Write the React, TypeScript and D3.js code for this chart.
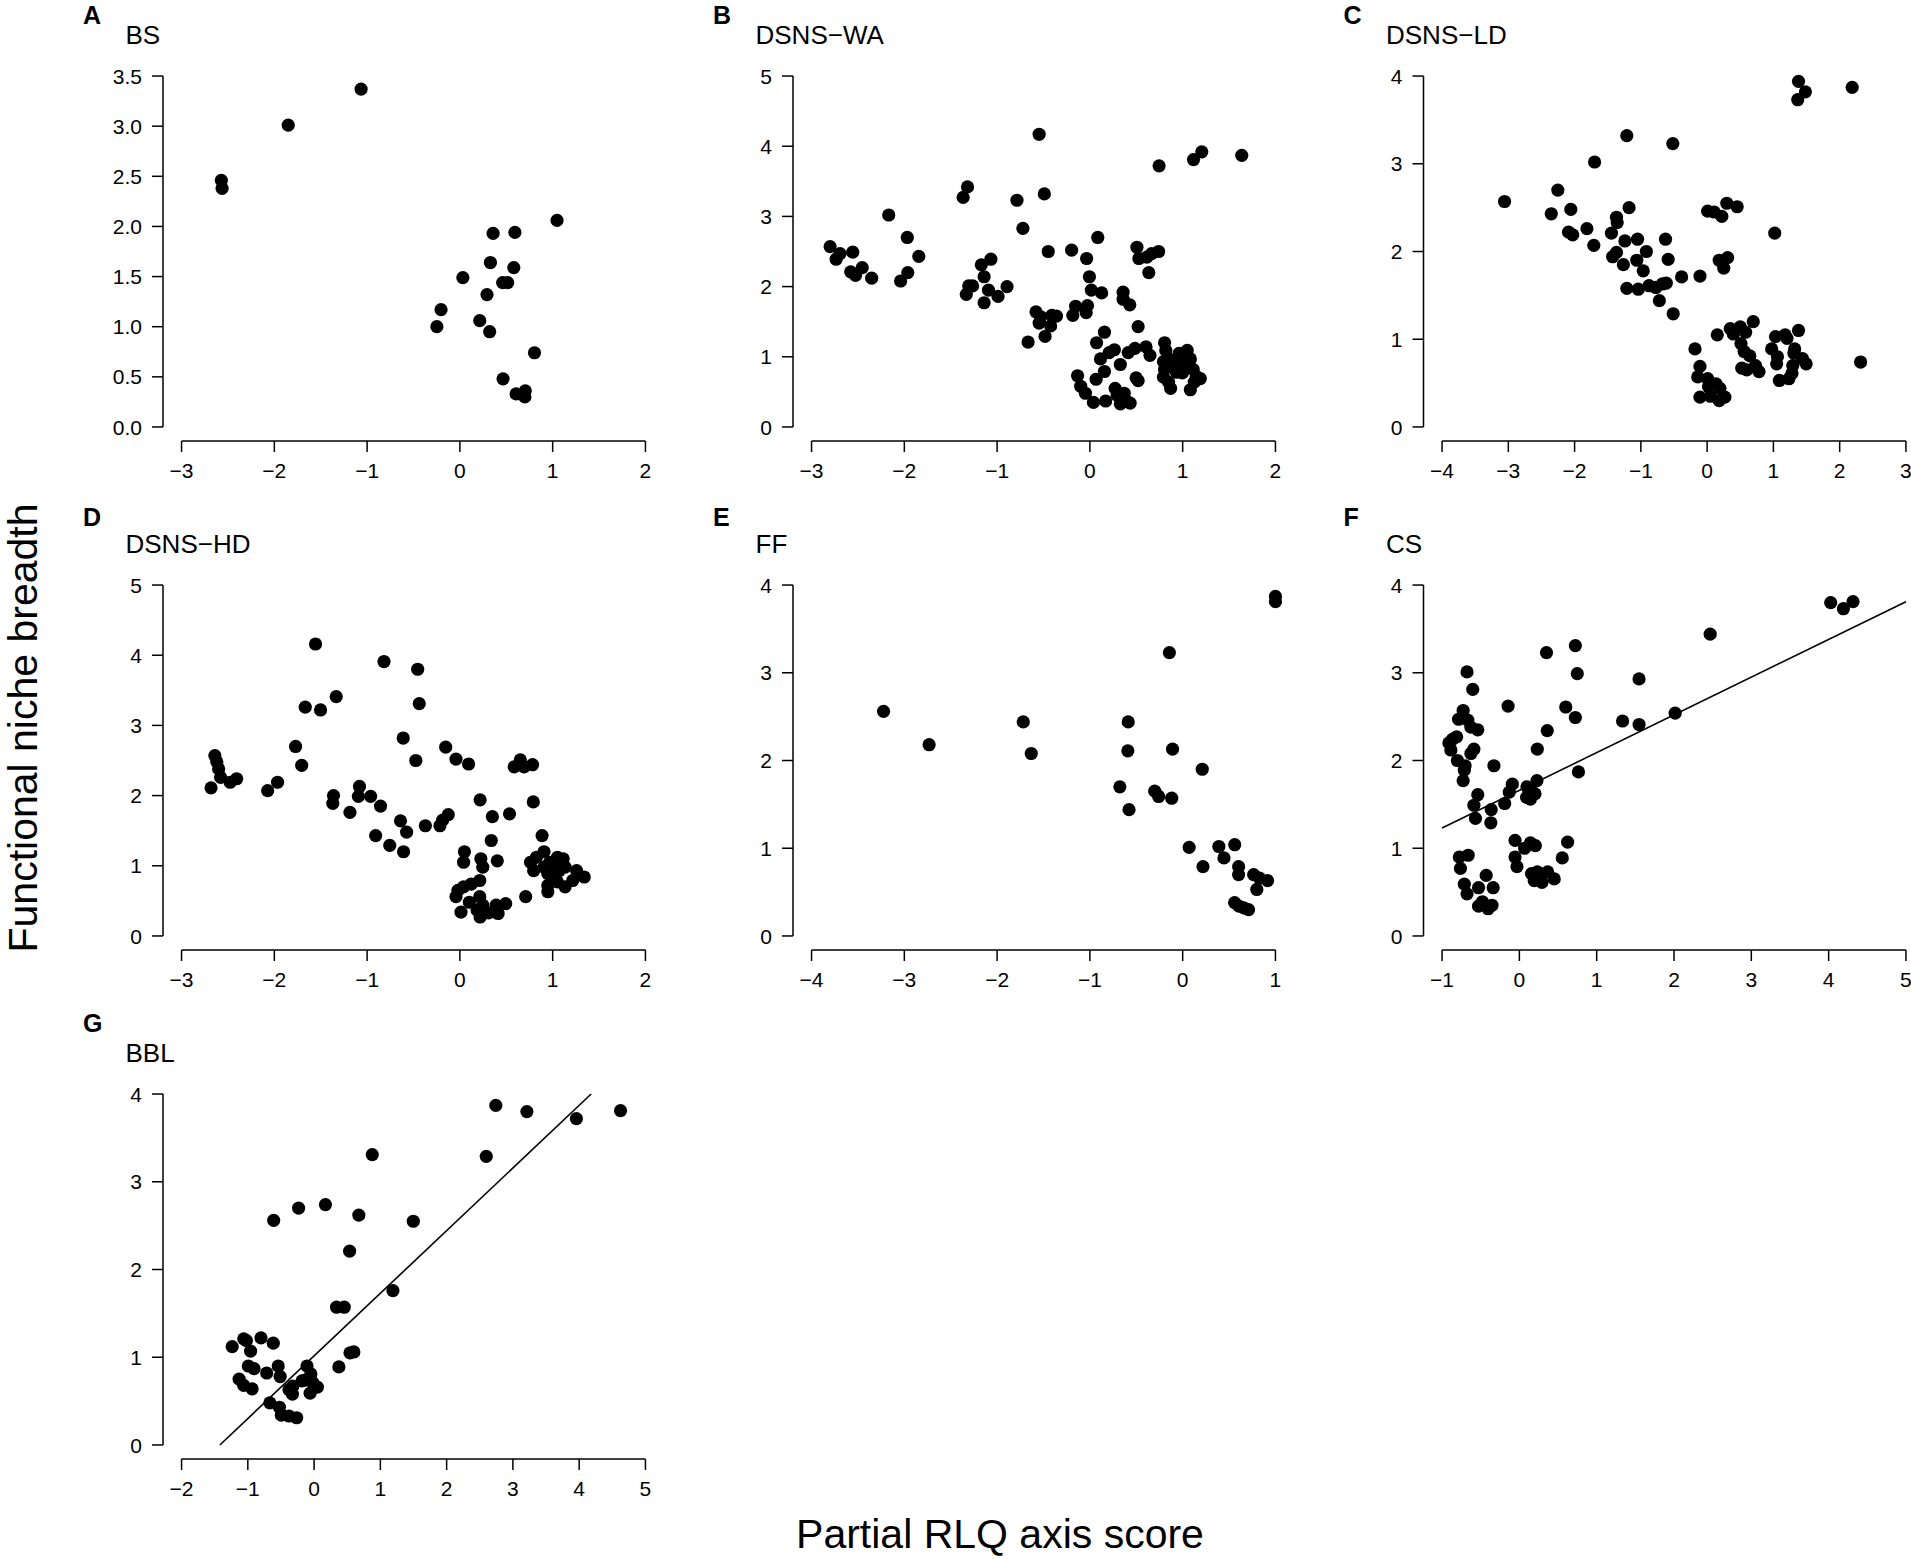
import React from "react";
import * as d3 from "d3";

// ---------- data ----------
const bsX = [-1.065, -1.85, -2.571, -2.563, 1.047, 0.358, 0.593, 0.329, 0.581, 0.032, 0.461, 0.515, 0.292, -0.203, -0.248, 0.214, 0.321, 0.804, 0.465, 0.606, 0.705, 0.70];
const bsY = [3.37, 3.01, 2.46, 2.38, 2.06, 1.93, 1.94, 1.64, 1.59, 1.49, 1.44, 1.44, 1.32, 1.17, 1.0, 1.06, 0.95, 0.74, 0.48, 0.33, 0.36, 0.30];

const waX = [-0.547, 0.746, 1.117, 1.206, 1.637, -1.319, -1.366, -0.786, -0.491, -2.168, -0.722, -1.968, 0.085, -2.8, -2.693, -2.735, -2.556, -1.844, -0.449, -0.197, -0.035, -2.578, -2.526, -2.454, -2.352, -1.963, -2.04, -1.17, -1.067, -1.14, -1.306, -1.264, -1.332, -1.093, -1.14, -0.99, -0.893, -0.005, 0.016, 0.127, 0.358, 0.358, 0.43, -0.026, -0.154, -0.184, -0.04, -0.581, -0.53, -0.547, -0.41, -0.36, -0.423, -0.483, -0.666, 0.52, 0.157, 0.072, 0.507, 0.528, 0.614, 0.665, 0.741, 0.635, 0.114, 0.208, 0.264, 0.413, 0.486, 0.605, 0.648, 0.328, -0.133, -0.099, -0.048, 0.038, 0.067, 0.157, 0.17, 0.272, 0.294, 0.328, 0.37, 0.40, 0.434, 0.498, 0.52, 0.805, 0.818, 0.848, 0.793, 0.805, 0.793, 0.848, 0.87, 0.89, 0.933, 0.963, 0.989, 1.049, 1.083, 1.04, 0.997, 1.113, 1.147, 1.19, 1.125, 1.083, 0.933];
const waY = [4.17, 3.72, 3.81, 3.92, 3.87, 3.42, 3.27, 3.23, 3.32, 3.02, 2.83, 2.70, 2.70, 2.57, 2.47, 2.39, 2.49, 2.43, 2.50, 2.52, 2.40, 2.21, 2.16, 2.27, 2.12, 2.20, 2.08, 2.31, 2.39, 2.14, 2.01, 2.01, 1.89, 1.95, 1.77, 1.86, 2.00, 2.14, 1.95, 1.91, 1.92, 1.82, 1.74, 1.73, 1.72, 1.59, 1.63, 1.64, 1.57, 1.48, 1.59, 1.58, 1.44, 1.29, 1.21, 1.43, 1.35, 1.20, 2.56, 2.40, 2.42, 2.47, 2.50, 2.20, 0.97, 1.06, 1.10, 1.06, 1.12, 1.14, 1.02, 0.89, 0.73, 0.58, 0.48, 0.35, 0.68, 0.79, 0.37, 0.55, 0.45, 0.33, 0.48, 0.36, 0.34, 0.70, 0.66, 1.20, 1.09, 0.97, 0.93, 0.82, 0.71, 0.64, 0.55, 0.86, 0.90, 1.05, 0.97, 1.09, 0.97, 0.86, 0.77, 0.82, 0.72, 0.69, 0.64, 0.53, 0.78];

const ldX = [1.379, 1.483, 1.367, 2.189, -1.212, -0.518, -1.698, -3.057, -2.253, -2.352, -2.057, -1.178, -1.368, -1.357, -2.091, -2.028, -1.814, -1.444, -1.71, -1.241, -1.05, -0.628, -0.917, -1.368, -1.426, -1.062, -0.588, -1.264, -0.964, -0.385, -0.108, -1.212, -1.039, -0.877, -0.773, -0.674, -0.616, -0.721, -0.512, 0.008, 0.106, 0.222, 0.297, 0.453, 1.02, 0.182, 0.309, 0.251, 0.153, 0.349, 0.396, 0.5, 0.581, 0.696, 0.511, 0.558, 0.644, 0.523, 0.598, 0.731, 0.783, -0.183, -0.108, -0.142, 0.008, 0.02, 0.135, 0.193, -0.108, 0.049, 0.182, 0.268, 0.974, 1.032, 1.176, 1.205, 1.061, 1.049, 1.09, 1.234, 1.28, 1.292, 1.321, 1.379, 1.437, 1.494, 2.316, 1.31];
const ldY = [3.94, 3.82, 3.73, 3.87, 3.32, 3.23, 3.02, 2.57, 2.70, 2.43, 2.48, 2.50, 2.39, 2.33, 2.22, 2.19, 2.26, 2.21, 2.07, 2.12, 2.14, 2.14, 2.00, 1.99, 1.94, 1.90, 1.91, 1.85, 1.78, 1.71, 1.72, 1.58, 1.57, 1.61, 1.59, 1.63, 1.64, 1.44, 1.29, 2.46, 2.45, 2.40, 2.55, 2.51, 2.21, 1.90, 1.93, 1.81, 1.05, 1.12, 1.06, 1.14, 1.08, 1.20, 0.95, 0.86, 0.81, 0.67, 0.65, 0.70, 0.63, 0.89, 0.69, 0.57, 0.55, 0.46, 0.49, 0.44, 0.34, 0.35, 0.30, 0.34, 0.89, 1.03, 1.05, 1.01, 0.80, 0.72, 0.53, 0.55, 0.61, 0.70, 0.89, 1.10, 0.78, 0.72, 0.74, 0.84];

const hdX = [-1.556, -0.818, -0.455, -1.333, -1.667, -1.502, -0.438, -0.611, -1.771, -1.705, -0.153, -0.042, 0.094, -0.475, -2.641, -2.62, -2.6, -2.579, -2.476, -2.406, -2.682, -2.072, -1.965, -1.362, -1.37, -1.082, -1.094, -0.962, -0.855, -1.185, -0.908, -0.756, -0.607, -0.64, -0.574, -0.372, -0.215, -0.186, -0.125, 0.218, 0.35, 0.535, 0.338, 0.585, 0.651, 0.692, 0.783, 0.791, 0.886, 0.907, 0.049, 0.04, 0.226, 0.247, 0.403, 0.214, 0.123, 0.04, -0.021, -0.042, 0.012, 0.102, 0.185, 0.214, 0.218, 0.247, 0.309, 0.391, 0.412, 0.494, 0.709, 0.762, 0.795, 0.824, 0.907, 0.948, 0.969, 1.01, 1.051, 1.113, 1.072, 1.134, 0.948, 0.989, 1.051, 1.134, 0.948, 1.216, 1.258, 1.34, 1.03];
const hdY = [4.16, 3.91, 3.80, 3.41, 3.26, 3.22, 3.31, 2.82, 2.70, 2.43, 2.69, 2.52, 2.45, 2.50, 2.57, 2.48, 2.38, 2.26, 2.19, 2.24, 2.11, 2.07, 2.19, 2.00, 1.89, 2.13, 1.99, 1.99, 1.85, 1.76, 1.43, 1.29, 1.20, 1.64, 1.48, 1.57, 1.57, 1.65, 1.73, 1.94, 1.70, 1.74, 1.36, 2.41, 2.51, 2.41, 2.44, 1.91, 1.43, 1.20, 1.20, 1.05, 1.10, 0.98, 1.07, 0.79, 0.74, 0.70, 0.65, 0.56, 0.34, 0.48, 0.37, 0.56, 0.27, 0.44, 0.33, 0.44, 0.32, 0.46, 0.56, 1.05, 0.93, 1.12, 0.98, 0.89, 1.05, 1.01, 1.12, 1.10, 0.93, 0.98, 0.72, 0.79, 0.77, 0.70, 0.63, 0.79, 0.93, 0.84, 0.86];

const ffX = [1.0, 1.0, -0.143, -3.224, -2.733, -1.718, -1.632, -0.587, -0.591, -0.109, 0.211, -0.677, -0.301, -0.259, -0.118, -0.578, 0.07, 0.39, 0.561, 0.445, 0.219, 0.603, 0.603, 0.765, 0.829, 0.915, 0.799, 0.56, 0.607, 0.659, 0.71];
const ffY = [3.87, 3.81, 3.23, 2.56, 2.18, 2.44, 2.08, 2.44, 2.11, 2.13, 1.90, 1.70, 1.65, 1.59, 1.57, 1.44, 1.01, 1.02, 1.04, 0.89, 0.79, 0.79, 0.70, 0.70, 0.66, 0.63, 0.53, 0.38, 0.34, 0.32, 0.30];

const csX = [4.027, 4.191, 4.315, 2.468, 0.724, 0.351, 0.749, 1.548, -0.677, -0.603, -0.146, 0.6, 0.724, 2.015, 1.335, 1.548, 0.361, -0.727, -0.786, -0.667, -0.627, -0.538, -0.811, -0.866, -0.911, -0.886, -0.588, -0.627, 0.232, -0.801, -0.702, -0.712, -0.727, -0.329, 0.764, 0.227, -0.091, -0.131, 0.098, 0.167, 0.202, 0.093, 0.143, -0.19, -0.538, -0.588, -0.364, -0.568, -0.369, -0.056, 0.068, 0.143, 0.207, 0.624, -0.056, -0.031, 0.555, -0.776, -0.662, -0.762, -0.712, -0.677, -0.429, -0.528, -0.339, -0.528, -0.478, -0.404, -0.354, 0.157, 0.232, 0.192, 0.292, 0.366, 0.451];
const csY = [3.80, 3.73, 3.81, 3.44, 3.31, 3.23, 2.99, 2.93, 3.01, 2.81, 2.62, 2.61, 2.49, 2.54, 2.45, 2.41, 2.34, 2.57, 2.47, 2.46, 2.38, 2.35, 2.27, 2.24, 2.20, 2.12, 2.13, 2.08, 2.13, 2.00, 1.94, 1.89, 1.77, 1.94, 1.87, 1.77, 1.73, 1.64, 1.70, 1.64, 1.62, 1.58, 1.56, 1.51, 1.61, 1.49, 1.44, 1.34, 1.29, 1.09, 1.00, 1.06, 1.03, 1.07, 0.90, 0.79, 0.89, 0.90, 0.92, 0.77, 0.59, 0.48, 0.69, 0.55, 0.55, 0.34, 0.39, 0.31, 0.35, 0.71, 0.73, 0.63, 0.61, 0.73, 0.65];

const bblX = [2.742, 3.211, 3.958, 4.624, 0.878, 2.598, -0.234, 0.171, 0.675, -0.61, 1.497, 0.536, 1.19, 0.339, 0.455, -1.236, -1.062, -1.021, -0.801, -0.616, -0.958, -0.992, -0.906, -0.715, -0.541, -0.512, -1.131, -1.062, -0.935, -0.668, -0.523, -0.494, -0.379, -0.263, -0.379, -0.321, -0.327, -0.107, -0.136, -0.049, -0.02, 0.05, -0.06, -0.182, 0.374, 0.542, 0.6];
const bblY = [3.87, 3.80, 3.72, 3.81, 3.31, 3.29, 2.70, 2.74, 2.62, 2.56, 2.55, 2.21, 1.76, 1.57, 1.57, 1.12, 1.21, 1.19, 1.22, 1.16, 1.07, 0.90, 0.87, 0.82, 0.90, 0.78, 0.75, 0.68, 0.64, 0.48, 0.43, 0.34, 0.33, 0.31, 0.63, 0.67, 0.58, 0.90, 0.74, 0.81, 0.71, 0.66, 0.59, 0.73, 0.89, 1.05, 1.06];

// tick values
const xTicksA = [-3, -2, -1, 0, 1, 2];
const yTicksA = [0, 0.5, 1, 1.5, 2, 2.5, 3, 3.5];
const xTicksB = [-3, -2, -1, 0, 1, 2];
const yTicksB = [0, 1, 2, 3, 4, 5];
const xTicksC = [-4, -3, -2, -1, 0, 1, 2, 3];
const yTicksC = [0, 1, 2, 3, 4];
const xTicksD = [-3, -2, -1, 0, 1, 2];
const yTicksD = [0, 1, 2, 3, 4, 5];
const xTicksE = [-4, -3, -2, -1, 0, 1];
const yTicksE = [0, 1, 2, 3, 4];
const xTicksF = [-1, 0, 1, 2, 3, 4, 5];
const yTicksF = [0, 1, 2, 3, 4];
const xTicksG = [-2, -1, 0, 1, 2, 3, 4, 5];
const yTicksG = [0, 1, 2, 3, 4];

// fitted regression lines [intercept, slope]
const csFit = [1.66, 0.43];
const bblFit = [1.015, 0.714];

const letters = ["A", "B", "C", "D", "E", "F", "G"];
const titles = ["BS", "DSNS\u2212WA", "DSNS\u2212LD", "DSNS\u2212HD", "FF", "CS", "BBL"];

type Panel = {
  letter: string;
  title: string;
  xs: number[];
  ys: number[];
  xTicks: number[];
  yTicks: number[];
  fit: number[] | null;
  decimals: number;
};

const panels: Panel[] = [
  { letter: letters[0], title: titles[0], xs: bsX, ys: bsY, xTicks: xTicksA, yTicks: yTicksA, fit: null, decimals: 1 },
  { letter: letters[1], title: titles[1], xs: waX, ys: waY, xTicks: xTicksB, yTicks: yTicksB, fit: null, decimals: 0 },
  { letter: letters[2], title: titles[2], xs: ldX, ys: ldY, xTicks: xTicksC, yTicks: yTicksC, fit: null, decimals: 0 },
  { letter: letters[3], title: titles[3], xs: hdX, ys: hdY, xTicks: xTicksD, yTicks: yTicksD, fit: null, decimals: 0 },
  { letter: letters[4], title: titles[4], xs: ffX, ys: ffY, xTicks: xTicksE, yTicks: yTicksE, fit: null, decimals: 0 },
  { letter: letters[5], title: titles[5], xs: csX, ys: csY, xTicks: xTicksF, yTicks: yTicksF, fit: csFit, decimals: 0 },
  { letter: letters[6], title: titles[6], xs: bblX, ys: bblY, xTicks: xTicksG, yTicks: yTicksG, fit: bblFit, decimals: 0 },
];

// ---------- layout ----------
const WIDTH = 1911;
const HEIGHT = 1559;
const colLeft = [163, 793, 1423.5];
const rowTop = [62, 571, 1080];
const letterBase = [24, 526, 1032];
const PW = 501;
const PH = 379;
const FONT = "'Liberation Sans', Arial, Helvetica, sans-serif";
const TICK_FS = 21;
const TITLE_FS = 26;
const LETTER_FS = 25;
const AXIS_FS = 41;
const TICK_LEN = 11;
const R_DOT = 6.6;

const fmt = (v: number, dec: number) => {
  const s = Math.abs(v).toFixed(dec);
  return v < 0 ? "\u2212" + s : s;
};

function PanelView({ p, idx }: { p: Panel; idx: number }) {
  const col = idx % 3;
  const row = Math.floor(idx / 3);
  const L = colLeft[col];
  const T = rowTop[row];
  const x0 = p.xTicks[0];
  const x1 = p.xTicks[p.xTicks.length - 1];
  const y0 = p.yTicks[0];
  const y1 = p.yTicks[p.yTicks.length - 1];
  const dx = (x1 - x0) * 0.04;
  const dy = (y1 - y0) * 0.04;
  const xs = d3.scaleLinear().domain([x0 - dx, x1 + dx]).range([L, L + PW]);
  const ys = d3.scaleLinear().domain([y0 - dy, y1 + dy]).range([T + PH, T]);
  const bottom = T + PH;

  let fitPath: string | null = null;
  if (p.fit) {
    const [a, b] = p.fit;
    let xa = x0;
    let xb = x1;
    const xAtY0 = (y0 - a) / b;
    const xAtY1 = (y1 - a) / b;
    xa = Math.max(xa, Math.min(xAtY0, xAtY1));
    xb = Math.min(xb, Math.max(xAtY0, xAtY1));
    const line = d3
      .line<number>()
      .x((v) => xs(v))
      .y((v) => ys(a + b * v));
    fitPath = line([xa, xb]);
  }

  return (
    <g>
      <text x={L - 80} y={letterBase[row]} fontSize={LETTER_FS} fontWeight="bold" fontFamily={FONT}>
        {p.letter}
      </text>
      <text x={L - 37.5} y={T - 18} fontSize={TITLE_FS} fontFamily={FONT}>
        {p.title}
      </text>
      <line x1={L} x2={L} y1={ys(y0)} y2={ys(y1)} stroke="#000" strokeWidth={1.5} />
      {p.yTicks.map((t) => (
        <g key={"y" + t}>
          <line x1={L - TICK_LEN} x2={L} y1={ys(t)} y2={ys(t)} stroke="#000" strokeWidth={1.5} />
          <text
            x={L - 21}
            y={ys(t) + TICK_FS * 0.36}
            fontSize={TICK_FS}
            fontFamily={FONT}
            textAnchor="end"
          >
            {fmt(t, p.decimals)}
          </text>
        </g>
      ))}
      <line x1={xs(x0)} x2={xs(x1)} y1={bottom} y2={bottom} stroke="#000" strokeWidth={1.5} />
      {p.xTicks.map((t) => (
        <g key={"x" + t}>
          <line x1={xs(t)} x2={xs(t)} y1={bottom} y2={bottom + TICK_LEN} stroke="#000" strokeWidth={1.5} />
          <text x={xs(t)} y={bottom + 37} fontSize={TICK_FS} fontFamily={FONT} textAnchor="middle">
            {fmt(t, 0)}
          </text>
        </g>
      ))}
      {fitPath && <path d={fitPath} fill="none" stroke="#000" strokeWidth={1.6} />}
      {p.xs.map((v, i) => (
        <circle key={i} cx={xs(v)} cy={ys(p.ys[i])} r={R_DOT} fill="#000" />
      ))}
    </g>
  );
}

export default function App() {
  return (
    <svg
      width={WIDTH}
      height={HEIGHT}
      viewBox={`0 0 ${WIDTH} ${HEIGHT}`}
      style={{ position: "absolute", left: 0, top: 0, background: "#fff" }}
    >
      <rect x={0} y={0} width={WIDTH} height={HEIGHT} fill="#fff" />
      {panels.map((p, i) => (
        <PanelView key={p.letter} p={p} idx={i} />
      ))}
      <text x={1000} y={1548} fontSize={AXIS_FS} fontFamily={FONT} textAnchor="middle">
        Partial RLQ axis score
      </text>
      <text
        transform={`translate(37, 728) rotate(-90)`}
        fontSize={AXIS_FS}
        fontFamily={FONT}
        textAnchor="middle"
      >
        Functional niche breadth
      </text>
    </svg>
  );
}
